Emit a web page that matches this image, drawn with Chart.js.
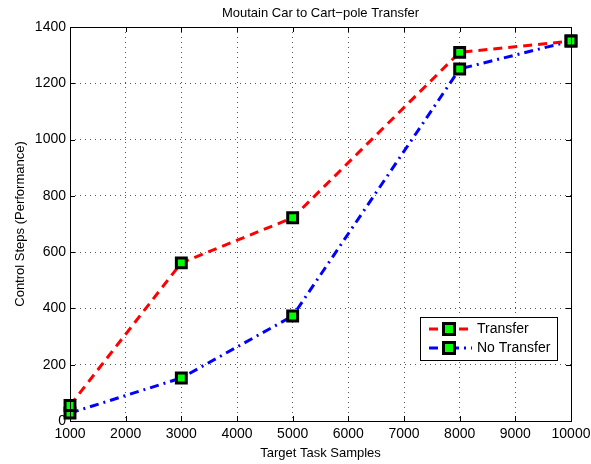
<!DOCTYPE html>
<html lang="en">
<head>
  <meta charset="UTF-8">
  <title>Moutain Car to Cart-pole Transfer</title>
  <script src="https://cdn.jsdelivr.net/npm/chart.js"></script>
  <style>
    html, body { margin: 0; padding: 0; background: #fff; }
    #wrap { width: 591px; height: 464px; }
  </style>
</head>
<body>
  <div id="wrap"><canvas id="chart" width="591" height="464"></canvas></div>

  <script>
    // data
    const samples = [1000, 3000, 5000, 8000, 10000];
    const transfer = [55, 562, 722, 1310, 1350];
    const noTransfer = [28, 153, 373, 1251, 1350];
    const xTicks = [1000, 2000, 3000, 4000, 5000, 6000, 7000, 8000, 9000, 10000];
    const yTicks = [0, 200, 400, 600, 800, 1000, 1200, 1400];

    const FONT = '"Liberation Sans", Arial, Helvetica, sans-serif';

    function pts(ys) {
      return samples.map((x, i) => ({ x: x, y: ys[i] }));
    }

    // frame, inward ticks, title, axis labels, legend
    const matlabLook = {
      id: 'matlabLook',
      afterDatasetsDraw(chart) {
        const ctx = chart.ctx;
        const a = chart.chartArea;
        const xs = chart.scales.x, ys = chart.scales.y;
        ctx.save();
        ctx.strokeStyle = '#000';
        ctx.lineWidth = 1;
        ctx.setLineDash([]);
        ctx.beginPath();
        xTicks.forEach(v => {
          const px = Math.round(xs.getPixelForValue(v)) + 0.5;
          ctx.moveTo(px, a.bottom); ctx.lineTo(px, a.bottom - 5);
          ctx.moveTo(px, a.top); ctx.lineTo(px, a.top + 5);
        });
        yTicks.forEach(v => {
          const py = Math.round(ys.getPixelForValue(v)) + 0.5;
          ctx.moveTo(a.left, py); ctx.lineTo(a.left + 5, py);
          ctx.moveTo(a.right, py); ctx.lineTo(a.right - 5, py);
        });
        ctx.stroke();
        ctx.strokeRect(Math.round(a.left) + 0.5, Math.round(a.top) + 0.5,
          Math.round(a.right - a.left), Math.round(a.bottom - a.top));

        // title + axis labels
        ctx.fillStyle = '#000';
        ctx.font = '13px ' + FONT;
        ctx.textAlign = 'center';
        ctx.textBaseline = 'middle';
        ctx.fillText('Moutain Car to Cart\u2212pole Transfer', (a.left + a.right) / 2, 13);
        ctx.fillText('Target Task Samples', (a.left + a.right) / 2, 453);
        ctx.save();
        ctx.translate(20, (a.top + a.bottom) / 2);
        ctx.rotate(-Math.PI / 2);
        ctx.fillText('Control Steps (Performance)', 0, 0);
        ctx.restore();

        // legend box
        const lx = 420, ly = 317, lw = 137, lh = 43;
        ctx.fillStyle = '#fff';
        ctx.fillRect(lx, ly, lw, lh);
        ctx.strokeRect(lx + 0.5, ly + 0.5, lw, lh);
        const rows = [
          { label: 'Transfer', ds: chart.data.datasets[0], y: ly + 12 },
          { label: 'No Transfer', ds: chart.data.datasets[1], y: ly + 31 }
        ];
        ctx.font = '14px ' + FONT;
        rows.forEach(r => {
          ctx.strokeStyle = r.ds.borderColor;
          ctx.lineWidth = 3;
          ctx.setLineDash(r.ds.borderDash);
          ctx.beginPath();
          ctx.moveTo(lx + 9, r.y); ctx.lineTo(lx + 52, r.y);
          ctx.stroke();
          ctx.setLineDash([]);
          ctx.fillStyle = '#000';
          ctx.fillRect(lx + 22, r.y - 7, 14, 14);
          ctx.fillStyle = '#00ff00';
          ctx.fillRect(lx + 25, r.y - 4, 8, 8);
          ctx.fillStyle = '#000';
          ctx.textAlign = 'left';
          ctx.fillText(r.label, lx + 57, r.y);
        });
        ctx.restore();
      }
    };

    new Chart(document.getElementById('chart'), {
      type: 'line',
      data: {
        datasets: [
          {
            label: 'Transfer',
            data: pts(transfer),
            borderColor: '#ff0000',
            borderWidth: 3,
            borderDash: [9, 6],
            pointStyle: 'rect',
            pointRadius: 7,
            pointBorderWidth: 3,
            pointBorderColor: '#000',
            pointBackgroundColor: '#00ff00',
            tension: 0,
            clip: false
          },
          {
            label: 'No Transfer',
            data: pts(noTransfer),
            borderColor: '#0000ff',
            borderWidth: 3,
            borderDash: [9, 5, 2, 5],
            pointStyle: 'rect',
            pointRadius: 7,
            pointBorderWidth: 3,
            pointBorderColor: '#000',
            pointBackgroundColor: '#00ff00',
            tension: 0,
            clip: false
          }
        ]
      },
      options: {
        responsive: false,
        animation: false,
        layout: { padding: { top: 27, right: 20, left: 0, bottom: 0 } },
        plugins: {
          legend: { display: false },
          title: { display: false },
          tooltip: { enabled: false }
        },
        scales: {
          x: {
            type: 'linear',
            min: 1000,
            max: 10000,
            afterBuildTicks: s => { s.ticks = xTicks.map(v => ({ value: v })); },
            afterFit: s => { s.height = 43; s.paddingLeft = 0; s.paddingRight = 0; },
            ticks: {
              color: '#000',
              font: { family: FONT, size: 14 },
              padding: 5,
              maxRotation: 0,
              callback: v => String(v)
            },
            grid: {
              color: '#555',
              lineWidth: 1,
              drawTicks: false
            },
            border: { display: false, dash: [1, 4] }
          },
          y: {
            min: 0,
            max: 1400,
            afterBuildTicks: s => { s.ticks = yTicks.map(v => ({ value: v })); },
            afterFit: s => { s.width = 70; s.paddingTop = 0; s.paddingBottom = 0; },
            ticks: {
              color: '#000',
              font: { family: FONT, size: 14 },
              padding: 4,
              callback: v => String(v)
            },
            grid: {
              color: '#555',
              lineWidth: 1,
              drawTicks: false
            },
            border: { display: false, dash: [1, 4] }
          }
        }
      },
      plugins: [matlabLook]
    });
  </script>
</body>
</html>
